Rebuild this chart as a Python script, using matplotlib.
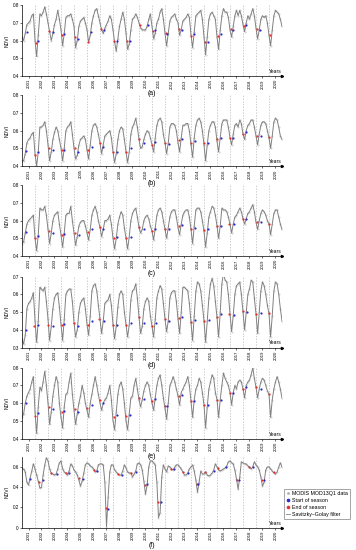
import numpy as np
import matplotlib
matplotlib.use("Agg")
import matplotlib.pyplot as plt
from matplotlib.lines import Line2D

plt.rcParams["font.family"] = ["Liberation Sans", "DejaVu Sans"]

years = list(range(2001, 2021))
panel_labels = ["(a)", "(b)", "(c)", "(d)", "(e)", "(f)"]

# Savitzky-Golay NDVI, 8 samples per year 2001..2020 plus end value
ndvi_a = [0.62, 0.60, 0.64, 0.69, 0.70, 0.71, 0.74, 0.75,
          0.60, 0.51, 0.63, 0.75, 0.74, 0.76, 0.79, 0.75,
          0.70, 0.65, 0.60, 0.64, 0.69, 0.72, 0.77, 0.72,
          0.66, 0.57, 0.64, 0.73, 0.74, 0.74, 0.75, 0.72,
          0.68, 0.56, 0.60, 0.68, 0.71, 0.72, 0.73, 0.70,
          0.66, 0.59, 0.63, 0.70, 0.74, 0.77, 0.78, 0.74,
          0.70, 0.66, 0.64, 0.67, 0.69, 0.71, 0.74, 0.72,
          0.66, 0.59, 0.54, 0.61, 0.68, 0.72, 0.76, 0.72,
          0.64, 0.55, 0.58, 0.66, 0.72, 0.73, 0.75, 0.73,
          0.70, 0.67, 0.66, 0.66, 0.66, 0.68, 0.72, 0.75,
          0.68, 0.61, 0.64, 0.70, 0.72, 0.76, 0.78, 0.72,
          0.64, 0.57, 0.64, 0.71, 0.73, 0.74, 0.75, 0.72,
          0.70, 0.63, 0.66, 0.71, 0.72, 0.73, 0.75, 0.73,
          0.63, 0.56, 0.65, 0.74, 0.75, 0.76, 0.77, 0.72,
          0.62, 0.52, 0.62, 0.72, 0.75, 0.76, 0.74, 0.72,
          0.62, 0.55, 0.66, 0.74, 0.78, 0.76, 0.76, 0.73,
          0.66, 0.62, 0.68, 0.74, 0.77, 0.74, 0.77, 0.74,
          0.69, 0.65, 0.70, 0.74, 0.72, 0.75, 0.78, 0.74,
          0.67, 0.61, 0.66, 0.72, 0.74, 0.73, 0.74, 0.70,
          0.63, 0.57, 0.66, 0.74, 0.77, 0.76, 0.75, 0.72,
          0.68]
ndvi_b = [0.43, 0.43, 0.47, 0.53, 0.55, 0.56, 0.58, 0.59,
          0.47, 0.40, 0.48, 0.62, 0.62, 0.63, 0.65, 0.60,
          0.52, 0.43, 0.48, 0.55, 0.59, 0.62, 0.60, 0.55,
          0.50, 0.43, 0.50, 0.60, 0.62, 0.63, 0.65, 0.58,
          0.50, 0.44, 0.46, 0.52, 0.55, 0.56, 0.57, 0.55,
          0.49, 0.44, 0.52, 0.60, 0.63, 0.64, 0.62, 0.58,
          0.53, 0.47, 0.52, 0.57, 0.58, 0.59, 0.60, 0.56,
          0.48, 0.42, 0.47, 0.55, 0.60, 0.62, 0.61, 0.55,
          0.48, 0.42, 0.48, 0.58, 0.62, 0.64, 0.67, 0.62,
          0.55, 0.50, 0.51, 0.55, 0.58, 0.60, 0.59, 0.56,
          0.52, 0.48, 0.56, 0.63, 0.66, 0.67, 0.65, 0.58,
          0.53, 0.47, 0.53, 0.62, 0.64, 0.64, 0.63, 0.60,
          0.53, 0.48, 0.56, 0.63, 0.63, 0.64, 0.64, 0.60,
          0.52, 0.45, 0.56, 0.63, 0.66, 0.67, 0.65, 0.60,
          0.52, 0.43, 0.52, 0.60, 0.63, 0.65, 0.65, 0.62,
          0.54, 0.48, 0.56, 0.64, 0.66, 0.66, 0.66, 0.62,
          0.56, 0.52, 0.58, 0.63, 0.64, 0.62, 0.66, 0.64,
          0.58, 0.55, 0.60, 0.63, 0.64, 0.66, 0.66, 0.62,
          0.57, 0.52, 0.58, 0.63, 0.65, 0.65, 0.64, 0.60,
          0.56, 0.50, 0.57, 0.65, 0.67, 0.66, 0.62, 0.57,
          0.55]
ndvi_c = [0.47, 0.48, 0.53, 0.58, 0.60, 0.61, 0.62, 0.63,
          0.50, 0.43, 0.52, 0.67, 0.66, 0.66, 0.68, 0.63,
          0.55, 0.47, 0.53, 0.60, 0.63, 0.64, 0.65, 0.58,
          0.52, 0.45, 0.53, 0.63, 0.64, 0.64, 0.68, 0.60,
          0.53, 0.46, 0.51, 0.57, 0.59, 0.60, 0.60, 0.57,
          0.53, 0.49, 0.55, 0.63, 0.66, 0.68, 0.65, 0.60,
          0.56, 0.51, 0.55, 0.60, 0.60, 0.61, 0.63, 0.58,
          0.50, 0.44, 0.50, 0.58, 0.62, 0.65, 0.63, 0.56,
          0.50, 0.44, 0.51, 0.60, 0.64, 0.66, 0.67, 0.62,
          0.56, 0.53, 0.55, 0.60, 0.62, 0.63, 0.61, 0.57,
          0.54, 0.49, 0.56, 0.63, 0.66, 0.67, 0.65, 0.60,
          0.55, 0.50, 0.56, 0.62, 0.65, 0.66, 0.66, 0.62,
          0.56, 0.52, 0.58, 0.63, 0.65, 0.66, 0.66, 0.62,
          0.55, 0.47, 0.57, 0.66, 0.67, 0.67, 0.65, 0.60,
          0.54, 0.45, 0.53, 0.62, 0.65, 0.68, 0.67, 0.63,
          0.57, 0.50, 0.57, 0.67, 0.66, 0.66, 0.65, 0.62,
          0.58, 0.53, 0.58, 0.62, 0.63, 0.65, 0.67, 0.65,
          0.61, 0.58, 0.61, 0.64, 0.65, 0.67, 0.69, 0.65,
          0.59, 0.55, 0.60, 0.64, 0.66, 0.65, 0.63, 0.60,
          0.58, 0.52, 0.58, 0.64, 0.66, 0.66, 0.62, 0.58,
          0.55]
ndvi_d = [0.35, 0.32, 0.37, 0.52, 0.55, 0.56, 0.58, 0.61,
          0.45, 0.33, 0.45, 0.64, 0.63, 0.62, 0.64, 0.56,
          0.46, 0.34, 0.42, 0.52, 0.58, 0.60, 0.61, 0.53,
          0.43, 0.34, 0.46, 0.60, 0.62, 0.63, 0.63, 0.56,
          0.44, 0.36, 0.40, 0.50, 0.55, 0.57, 0.58, 0.52,
          0.43, 0.37, 0.48, 0.62, 0.65, 0.66, 0.62, 0.54,
          0.46, 0.38, 0.45, 0.55, 0.56, 0.57, 0.60, 0.54,
          0.43, 0.35, 0.42, 0.53, 0.60, 0.62, 0.60, 0.50,
          0.43, 0.36, 0.43, 0.57, 0.62, 0.63, 0.66, 0.58,
          0.47, 0.38, 0.42, 0.52, 0.56, 0.58, 0.56, 0.48,
          0.42, 0.36, 0.46, 0.58, 0.62, 0.65, 0.63, 0.55,
          0.46, 0.39, 0.45, 0.58, 0.61, 0.62, 0.62, 0.56,
          0.46, 0.38, 0.50, 0.64, 0.64, 0.63, 0.62, 0.55,
          0.44, 0.34, 0.48, 0.62, 0.67, 0.66, 0.62, 0.54,
          0.45, 0.33, 0.45, 0.58, 0.66, 0.69, 0.65, 0.56,
          0.47, 0.36, 0.50, 0.66, 0.72, 0.68, 0.67, 0.60,
          0.49, 0.39, 0.48, 0.60, 0.65, 0.66, 0.67, 0.60,
          0.50, 0.40, 0.50, 0.60, 0.63, 0.68, 0.67, 0.58,
          0.49, 0.38, 0.50, 0.62, 0.67, 0.65, 0.60, 0.54,
          0.49, 0.36, 0.48, 0.62, 0.67, 0.66, 0.60, 0.52,
          0.45]
ndvi_e = [0.52, 0.54, 0.60, 0.64, 0.66, 0.68, 0.72, 0.75,
          0.55, 0.43, 0.58, 0.69, 0.67, 0.72, 0.78, 0.70,
          0.60, 0.48, 0.55, 0.64, 0.70, 0.75, 0.72, 0.60,
          0.52, 0.46, 0.58, 0.65, 0.66, 0.72, 0.77, 0.65,
          0.56, 0.48, 0.54, 0.60, 0.64, 0.70, 0.66, 0.60,
          0.56, 0.52, 0.60, 0.65, 0.70, 0.75, 0.70, 0.65,
          0.60, 0.56, 0.60, 0.62, 0.63, 0.66, 0.70, 0.62,
          0.50, 0.45, 0.55, 0.65, 0.70, 0.72, 0.68, 0.60,
          0.50, 0.45, 0.54, 0.63, 0.64, 0.70, 0.74, 0.68,
          0.62, 0.58, 0.62, 0.67, 0.70, 0.72, 0.70, 0.65,
          0.60, 0.56, 0.63, 0.70, 0.74, 0.76, 0.70, 0.63,
          0.57, 0.51, 0.60, 0.70, 0.72, 0.75, 0.72, 0.68,
          0.64, 0.59, 0.66, 0.68, 0.70, 0.72, 0.75, 0.70,
          0.61, 0.52, 0.62, 0.68, 0.70, 0.74, 0.72, 0.66,
          0.59, 0.46, 0.58, 0.68, 0.72, 0.76, 0.74, 0.66,
          0.62, 0.52, 0.62, 0.70, 0.77, 0.74, 0.72, 0.70,
          0.66, 0.59, 0.66, 0.70, 0.68, 0.72, 0.73, 0.72,
          0.68, 0.63, 0.70, 0.72, 0.73, 0.76, 0.80, 0.74,
          0.69, 0.63, 0.68, 0.72, 0.74, 0.73, 0.70, 0.67,
          0.65, 0.52, 0.62, 0.68, 0.72, 0.75, 0.72, 0.68,
          0.63]
ndvi_f = [0.58, 0.58, 0.55, 0.45, 0.42, 0.49, 0.56, 0.63,
          0.58, 0.52, 0.46, 0.39, 0.40, 0.52, 0.62, 0.69,
          0.66, 0.58, 0.54, 0.53, 0.52, 0.53, 0.58, 0.64,
          0.66, 0.58, 0.55, 0.54, 0.52, 0.56, 0.63, 0.61,
          0.57, 0.55, 0.52, 0.47, 0.41, 0.46, 0.54, 0.62,
          0.64, 0.63, 0.61, 0.60, 0.58, 0.55, 0.56, 0.62,
          0.63, 0.63, 0.62, 0.45, 0.01, 0.30, 0.55, 0.62,
          0.62, 0.57, 0.55, 0.53, 0.52, 0.52, 0.56, 0.62,
          0.59, 0.55, 0.54, 0.54, 0.50, 0.53, 0.56, 0.63,
          0.64, 0.62, 0.57, 0.46, 0.33, 0.42, 0.60, 0.66,
          0.66, 0.64, 0.62, 0.45, 0.10, 0.15, 0.50, 0.62,
          0.58, 0.55, 0.61, 0.60, 0.58, 0.57, 0.60, 0.62,
          0.62, 0.60, 0.58, 0.55, 0.52, 0.52, 0.54, 0.58,
          0.60, 0.62, 0.56, 0.47, 0.35, 0.45, 0.56, 0.53,
          0.53, 0.55, 0.52, 0.51, 0.52, 0.54, 0.57, 0.63,
          0.60, 0.57, 0.56, 0.57, 0.58, 0.59, 0.61, 0.65,
          0.66, 0.64, 0.63, 0.57, 0.48, 0.38, 0.50, 0.65,
          0.64, 0.63, 0.63, 0.61, 0.60, 0.58, 0.60, 0.65,
          0.62, 0.60, 0.57, 0.50, 0.41, 0.45, 0.57, 0.60,
          0.60, 0.58, 0.56, 0.54, 0.53, 0.55, 0.60, 0.64,
          0.60]

# start of season (blue) and end of season (red): time, NDVI
sos_a_t = [2001.36, 2002.23, 2003.41, 2004.23, 2005.28, 2006.28, 2007.31, 2008.33, 2009.31, 2010.67,
           2011.26, 2012.18, 2013.28, 2014.25, 2015.31, 2016.31, 2017.23, 2018.23, 2019.33]
sos_a_v = [0.65, 0.60, 0.65, 0.635, 0.61, 0.65, 0.66, 0.60, 0.60, 0.69,
           0.66, 0.635, 0.66, 0.635, 0.59, 0.635, 0.66, 0.69, 0.66]
eos_a_t = [2002.05, 2003.10, 2004.10, 2005.10, 2006.10, 2007.08, 2008.10, 2009.08, 2010.08, 2011.05,
           2012.05, 2013.05, 2013.97, 2015.05, 2016.08, 2017.05, 2018.05, 2019.08, 2020.05]
eos_a_v = [0.587, 0.655, 0.634, 0.62, 0.59, 0.667, 0.598, 0.598, 0.69, 0.655,
           0.64, 0.664, 0.626, 0.59, 0.626, 0.664, 0.683, 0.664, 0.634]

sos_b_t = [2001.31, 2002.23, 2003.41, 2004.23, 2005.33, 2006.36, 2007.26, 2008.33, 2009.36, 2010.41,
           2011.26, 2012.31, 2013.28, 2014.31, 2015.31, 2016.31, 2017.26, 2018.23, 2019.36]
sos_b_v = [0.483, 0.48, 0.49, 0.49, 0.48, 0.51, 0.51, 0.48, 0.50, 0.53,
           0.535, 0.525, 0.55, 0.54, 0.53, 0.56, 0.56, 0.59, 0.57]
eos_b_t = [2002.00, 2003.08, 2004.05, 2005.08, 2006.10, 2007.00, 2008.03, 2009.00, 2010.00, 2011.03,
           2012.00, 2013.05, 2013.97, 2015.00, 2015.97, 2017.00, 2018.00, 2019.05, 2020.00]
eos_b_v = [0.46, 0.50, 0.49, 0.50, 0.49, 0.53, 0.48, 0.48, 0.55, 0.52,
           0.53, 0.545, 0.53, 0.53, 0.55, 0.56, 0.58, 0.57, 0.565]

sos_c_t = [2001.31, 2002.23, 2003.41, 2004.23, 2005.38, 2006.38, 2007.26, 2008.33, 2009.38, 2010.41,
           2011.26, 2012.31, 2013.33, 2014.31, 2015.31, 2016.31, 2017.28, 2018.23, 2019.36]
sos_c_v = [0.535, 0.515, 0.53, 0.525, 0.52, 0.55, 0.55, 0.505, 0.51, 0.55,
           0.55, 0.555, 0.575, 0.56, 0.55, 0.57, 0.58, 0.61, 0.59]
eos_c_t = [2002.00, 2003.08, 2004.05, 2005.08, 2006.05, 2007.00, 2008.05, 2009.00, 2009.97, 2011.03,
           2012.00, 2013.05, 2013.97, 2015.00, 2016.00, 2016.95, 2018.00, 2019.05, 2020.00]
eos_c_v = [0.50, 0.54, 0.52, 0.53, 0.535, 0.565, 0.50, 0.50, 0.565, 0.54,
           0.555, 0.57, 0.55, 0.545, 0.57, 0.58, 0.61, 0.59, 0.58]

sos_d_t = [2001.31, 2002.23, 2003.41, 2004.23, 2005.33, 2006.36, 2007.31, 2008.33, 2009.36, 2010.38,
           2011.31, 2012.33, 2013.28, 2014.31, 2015.36, 2016.31, 2017.28, 2018.28, 2019.36]
sos_d_v = [0.40, 0.43, 0.42, 0.435, 0.42, 0.45, 0.45, 0.43, 0.44, 0.44,
           0.44, 0.45, 0.47, 0.455, 0.455, 0.49, 0.485, 0.50, 0.495]
eos_d_t = [2001.95, 2003.03, 2004.05, 2005.00, 2006.05, 2006.95, 2008.03, 2008.97, 2010.00, 2011.00,
           2011.97, 2013.05, 2013.97, 2015.00, 2015.97, 2016.95, 2018.00, 2019.00, 2019.97]
eos_d_v = [0.42, 0.43, 0.43, 0.44, 0.43, 0.46, 0.43, 0.43, 0.47, 0.42,
           0.46, 0.465, 0.445, 0.45, 0.475, 0.49, 0.505, 0.49, 0.495]

sos_e_t = [2001.31, 2002.23, 2003.41, 2004.23, 2005.33, 2006.36, 2007.26, 2008.33, 2009.31, 2010.41,
           2011.26, 2012.18, 2013.31, 2014.26, 2015.31, 2016.31, 2017.26, 2018.23, 2019.36]
sos_e_v = [0.60, 0.545, 0.565, 0.555, 0.55, 0.59, 0.60, 0.535, 0.535, 0.625,
           0.625, 0.585, 0.645, 0.615, 0.59, 0.62, 0.655, 0.69, 0.68]
eos_e_t = [2001.97, 2003.08, 2004.05, 2005.05, 2006.03, 2007.00, 2008.05, 2009.03, 2010.03, 2011.03,
           2012.00, 2013.05, 2013.97, 2015.00, 2016.00, 2017.00, 2018.03, 2019.00, 2019.97]
eos_e_v = [0.53, 0.58, 0.55, 0.57, 0.575, 0.617, 0.525, 0.53, 0.63, 0.615,
           0.585, 0.64, 0.61, 0.59, 0.62, 0.66, 0.68, 0.69, 0.65]

sos_f_t = [2001.62, 2002.59, 2003.72, 2004.64, 2005.72, 2006.79, 2007.62, 2008.72, 2009.74, 2010.64,
           2011.67, 2012.69, 2013.74, 2014.56, 2015.74, 2016.69, 2017.72, 2018.79, 2019.59]
sos_f_v = [0.48, 0.47, 0.53, 0.54, 0.48, 0.555, 0.18, 0.525, 0.55, 0.43,
           0.25, 0.58, 0.535, 0.435, 0.56, 0.60, 0.475, 0.60, 0.475]
eos_f_t = [2002.33, 2003.23, 2004.38, 2005.38, 2006.56, 2007.46, 2008.36, 2009.38, 2010.44, 2011.49,
           2012.44, 2013.41, 2014.44, 2015.10, 2016.05, 2017.54, 2018.49, 2019.46, 2020.36]
eos_f_v = [0.45, 0.54, 0.535, 0.49, 0.565, 0.19, 0.53, 0.54, 0.425, 0.25,
           0.58, 0.55, 0.435, 0.55, 0.585, 0.475, 0.60, 0.475, 0.55]

ylims = [(0.4, 0.8), (0.4, 0.8), (0.4, 0.8), (0.3, 0.7), (0.4, 0.8), (0.0, 0.7)]
yticks = [[0.4, 0.5, 0.6, 0.7, 0.8]] * 3 + [[0.3, 0.4, 0.5, 0.6, 0.7]] + [[0.4, 0.5, 0.6, 0.7, 0.8]] + [[0, 0.2, 0.4, 0.6]]
ytick_labels = [["0.4", "0.5", "0.6", "0.7", "0.8"]] * 3 + [["0.3", "0.4", "0.5", "0.6", "0.7"]] + \
               [["0.4", "0.5", "0.6", "0.7", "0.8"]] + [["0", "0.2", "0.4", "0.6"]]

series = [ndvi_a, ndvi_b, ndvi_c, ndvi_d, ndvi_e, ndvi_f]
sos = [(sos_a_t, sos_a_v), (sos_b_t, sos_b_v), (sos_c_t, sos_c_v),
       (sos_d_t, sos_d_v), (sos_e_t, sos_e_v), (sos_f_t, sos_f_v)]
eos = [(eos_a_t, eos_a_v), (eos_b_t, eos_b_v), (eos_c_t, eos_c_v),
       (eos_d_t, eos_d_v), (eos_e_t, eos_e_v), (eos_f_t, eos_f_v)]

# axes bottoms in figure fraction (top to bottom)
bottoms = [0.8618, 0.698, 0.5345, 0.368, 0.2024, 0.0405]
line_col = "#808080"
blue = "#2a2ad0"
red = "#e8302a"

fig = plt.figure(figsize=(3.56, 5.5), dpi=100)

for i in range(6):
    ax = fig.add_axes([0.0618, bottoms[i], 0.7303, 0.129])
    ax.patch.set_visible(False)
    vals = np.array(series[i])
    t = 2001 + np.arange(len(vals)) / 8

    for yb in range(2002, 2021):
        ax.axvline(yb, color="#b8b8b8", lw=0.5, ls=(0, (2, 2)), zorder=0)

    ax.plot(t, vals, ls="none", marker=".", ms=1.0, color="#cfcfcf", zorder=1)
    ax.plot(t, vals, color=line_col, lw=0.7, zorder=2)
    ax.scatter(eos[i][0], eos[i][1], s=2.5, color=red, zorder=3, linewidths=0)
    ax.scatter(sos[i][0], sos[i][1], s=2.5, color=blue, zorder=3, linewidths=0)

    ax.set_xlim(2001, 2021)
    ax.set_ylim(*ylims[i])
    ax.set_yticks(yticks[i])
    ax.set_yticklabels(ytick_labels[i], fontsize=3.3)
    ax.set_xticks([y + 0.5 for y in years])
    ax.set_xticklabels([str(y) for y in years], rotation=90, fontsize=3.1)
    ax.tick_params(length=1.5, width=0.4, pad=0.8)
    for s in ["top", "right"]:
        ax.spines[s].set_visible(False)
    for s in ["left", "bottom"]:
        ax.spines[s].set_linewidth(0.5)
    ax.plot(1, 0, ">", transform=ax.transAxes, ms=1.6, color="k", clip_on=False)
    ax.set_ylabel("NDVI", fontsize=3.6, labelpad=2)
    ax.text(1.0, 0.03, "Years", transform=ax.transAxes, ha="right", va="bottom", fontsize=3.6)
    ax.text(0.5, -0.25, panel_labels[i], transform=ax.transAxes, ha="center", va="center",
            fontsize=5, zorder=10)

    if i == 5:
        handles = [
            Line2D([], [], ls="none", marker=".", ms=2, color="#b0b0b0"),
            Line2D([], [], ls="none", marker="o", ms=1.6, color=blue),
            Line2D([], [], ls="none", marker="o", ms=1.6, color=red),
            Line2D([], [], color=line_col, lw=0.6),
        ]
        names = ["MODIS MOD13Q1 data", "Start of season", "End of season", "Savitzky\u2013Golay filter"]
        leg = fig.legend(handles, names, loc="upper left", bbox_to_anchor=(0.797, 0.111),
                         fontsize=3.8, frameon=True, fancybox=False, edgecolor="#808080",
                         handlelength=0.9, handletextpad=0.35, borderpad=0.35, labelspacing=0.4,
                         borderaxespad=0, framealpha=1)
        leg.get_frame().set_linewidth(0.5)

fig.savefig("out.png", dpi=100)
